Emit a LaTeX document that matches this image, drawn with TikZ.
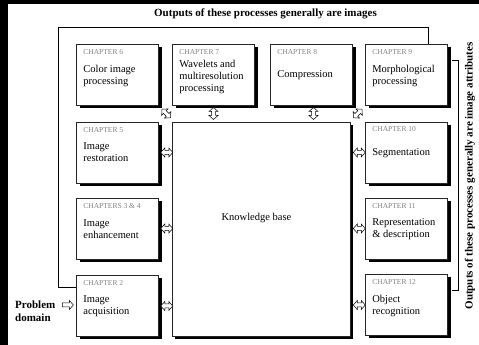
\documentclass[tikz,border=0pt]{standalone}
\usepackage{fontspec}
\setmainfont{Liberation Serif}
\usetikzlibrary{shadows,calc}
\tikzset{
  x=1pt,y=1pt,
  box/.style={draw=black!85, line width=0.6pt, fill=white, minimum width=82pt, minimum height=61pt, inner sep=0pt,
    drop shadow={shadow xshift=3pt, shadow yshift=-3pt, fill=black, opacity=1}},
  kbbox/.style={box, minimum width=178pt, minimum height=214pt},
  chap/.style={anchor=west, inner sep=0pt, text=black!50, font=\fontsize{7.5}{9}\selectfont},
  txt/.style={anchor=west, inner sep=0pt, align=left, font=\fontsize{10.5}{12}\selectfont},
  ttl/.style={inner sep=0pt, font=\bfseries\fontsize{11}{13}\selectfont},
  bracket/.style={draw=black, line width=0.6pt},
  dbl/.pic={\draw[line width=0.5pt, fill=white] (-6,0) -- (-2,4.5) -- (-2,2) -- (2,2) -- (2,4.5) -- (6,0) -- (2,-4.5) -- (2,-2) -- (-2,-2) -- (-2,-4.5) -- cycle;},
  sgl/.pic={\draw[line width=0.5pt, fill=white] (-5.5,2) -- (1.5,2) -- (1.5,4.5) -- (5.5,0) -- (1.5,-4.5) -- (1.5,-2) -- (-5.5,-2) -- cycle;}
}
\begin{document}
\begin{tikzpicture}
\useasboundingbox (0,0) rectangle (479,345);
\fill[black] (0,0) rectangle (479,345);
\fill[white] (8,0) rectangle (479,340.5);

% boxes
\node[box] (c6) at (117.5,270.5) {};
\node[box] (c7) at (213.5,270.5) {};
\node[box] (c8) at (311.5,270.5) {};
\node[box] (c9) at (406.5,270.5) {};
\node[box] (c5) at (117.5,192.5) {};
\node[box] (c34) at (117.5,116.5) {};
\node[box] (c2) at (117.5,39) {};
\node[box] (c10) at (406.5,192.5) {};
\node[box] (c11) at (406.5,116.5) {};
\node[box] (c12) at (406.5,40) {};
\node[kbbox] (kb) at (261,116) {};

% texts
\node[chap] (l6) at ($(c6.north west)+(7,-8)$) {CHAPTER 6};
\node[txt] (t6) at ($(c6.north west)+(7,-32)$) {Color image\\processing};
\node[chap] (l7) at ($(c7.north west)+(7,-8)$) {CHAPTER 7};
\node[txt] (t7) at ($(c7.north west)+(7,-33)$) {Wavelets and\\multiresolution\\processing};
\node[chap] (l8) at ($(c8.north west)+(7,-8)$) {CHAPTER 8};
\node[txt] (t8) at ($(c8.north west)+(7,-31)$) {Compression};
\node[chap] (l9) at ($(c9.north west)+(7,-8)$) {CHAPTER 9};
\node[txt] (t9) at ($(c9.north west)+(7,-32)$) {Morphological\\processing};
\node[chap] (l5) at ($(c5.north west)+(7,-8)$) {CHAPTER 5};
\node[txt] (t5) at ($(c5.north west)+(7,-30)$) {Image\\restoration};
\node[chap] (l34) at ($(c34.north west)+(7,-8)$) {CHAPTERS 3 \& 4};
\node[txt] (t34) at ($(c34.north west)+(7,-31)$) {Image\\enhancement};
\node[chap] (l2) at ($(c2.north west)+(7,-8)$) {CHAPTER 2};
\node[txt] (t2) at ($(c2.north west)+(7,-31)$) {Image\\acquisition};
\node[chap] (l10) at ($(c10.north west)+(7,-7)$) {CHAPTER 10};
\node[txt] (t10) at ($(c10.north west)+(7,-31)$) {Segmentation};
\node[chap] (l11) at ($(c11.north west)+(7,-8)$) {CHAPTER 11};
\node[txt] (t11) at ($(c11.north west)+(7,-31)$) {Representation\\\& description};
\node[chap] (l12) at ($(c12.north west)+(7,-8)$) {CHAPTER 12};
\node[txt] (t12) at ($(c12.north west)+(7,-32)$) {Object\\recognition};
\node[inner sep=0pt, font=\fontsize{10.5}{12}\selectfont] (kbt) at (256.5,127) {Knowledge base};

% titles
\node[ttl] (top) at (265.5,331) {Outputs of these processes generally are images};
\node[ttl, rotate=90] (side) at (470,169) {Outputs of these processes generally are image attributes};
\node[ttl, anchor=west, align=left] (pd) at (15,34) {Problem\\domain};

% brackets
\coordinate (tl) at (58,318);
\coordinate (tr) at (428,318);
\draw[bracket] ($(c2.north west)+(0,-12)$) -| (tl) -- (tr) -- (tr |- c9.north);
\coordinate (rb1) at (452,285);
\coordinate (rb2) at (458,285);
\coordinate (rb3) at (458,55);
\coordinate (rb4) at (452,55);
\draw[bracket] (rb1) -- (rb2) -- (rb3) -- (rb4);

% arrows
\pic at ($(c5.east)!0.5!(c5.east -| kb.west)+(1.5,0)$) {dbl};
\pic at ($(c34.east)!0.5!(c34.east -| kb.west)+(1.5,0)$) {dbl};
\pic at ($(c2.east)!0.5!(c2.east -| kb.west)+(1.5,0)$) {dbl};
\pic at ($(kb.east |- c10.west)!0.5!(c10.west)+(1.5,0)$) {dbl};
\pic at ($(kb.east |- c11.west)!0.5!(c11.west)+(1.5,0)$) {dbl};
\pic at ($(kb.east |- c12.west)!0.5!(c12.west)+(1.5,0)$) {dbl};
\pic[rotate=90] at ($(c7.south)!0.5!(c7.south |- kb.north)$) {dbl};
\pic[rotate=90] at ($(c8.south)!0.5!(c8.south |- kb.north)+(2,0)$) {dbl};
\pic[rotate=-45] at ($(c6.south east)!0.5!(kb.north west)+(1,0)$) {dbl};
\pic[rotate=45] at ($(c9.south west)!0.5!(kb.north east)$) {dbl};
\pic at ($(pd.east |- c2.west)!0.5!(c2.west)+(2,1)$) {sgl};
\end{tikzpicture}
\end{document}
